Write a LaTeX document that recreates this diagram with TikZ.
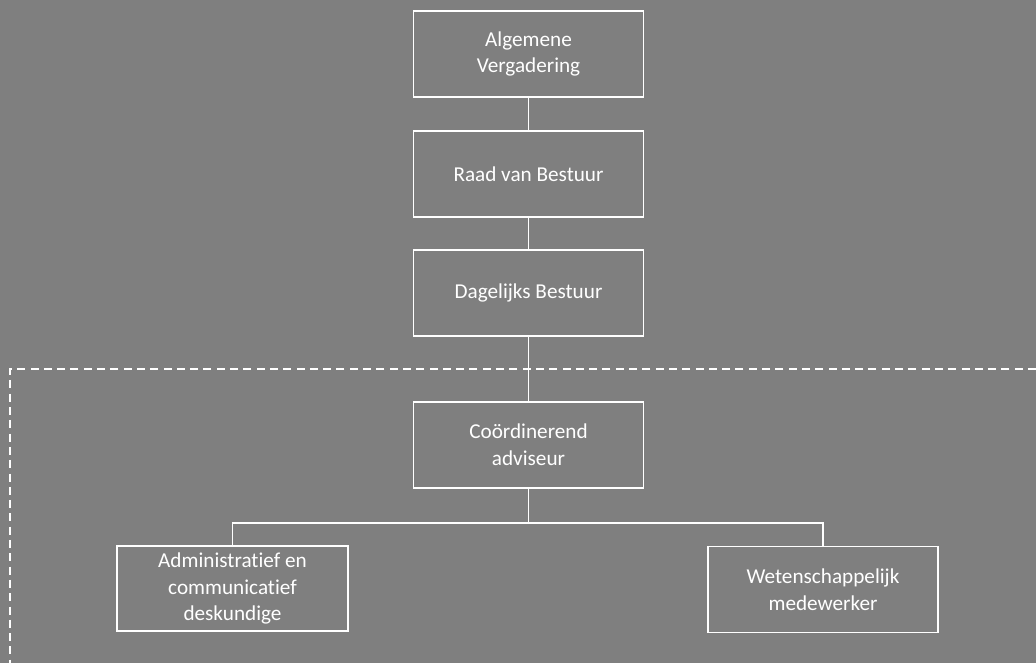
\documentclass[tikz,border=0pt]{standalone}
\usepackage{fontspec}
\setmainfont{Carlito}[Ligatures=NoCommon]
\definecolor{bg}{RGB}{127,127,127}
\begin{document}
\begin{tikzpicture}[x=1pt,y=-1pt,
  orgbox/.style={draw=white,line width=1.6pt,rectangle,minimum width=230pt,minimum height=86pt,
    text=white,align=center,inner sep=0pt,font=\fontsize{21.2}{26.7}\selectfont},
  conn/.style={draw=white,line width=1.2pt},
  frame/.style={draw=white,line width=1.6pt,dash pattern=on 8pt off 5.3pt}]
\fill[bg] (0,0) rectangle (1036,663);
\useasboundingbox (0,0) rectangle (1036,663);
\node[orgbox] (av) at (528.5,54) {Algemene\\Vergadering};
\node[orgbox] (rvb) at (528.5,174) {Raad van Bestuur};
\node[orgbox] (db) at (528.5,293) {Dagelijks Bestuur};
\node[orgbox] (ca) at (528.5,445) {Coördinerend\\adviseur};
\node[orgbox,minimum width=231pt,minimum height=85pt] (acd) at (232.5,588.5) {Administratief en\\communicatief\\deskundige};
\node[orgbox] (wm) at (823,589.5) {Wetenschappelijk\\medewerker};
\coordinate (j) at (528.5,523);
\coordinate (fr) at (1036,369);
\coordinate (fc) at (10,369);
\coordinate (fb) at (10,663);
\draw[frame] (fr) -- (fc) -- (fb);
\draw[conn] (av.south) -- (rvb.north);
\draw[conn] (rvb.south) -- (db.north);
\draw[conn] (db.south) -- (ca.north);
\draw[conn] (ca.south) -- (j);
\draw[conn] (acd.north) |- (j) -| (wm.north);
\end{tikzpicture}
\end{document}
